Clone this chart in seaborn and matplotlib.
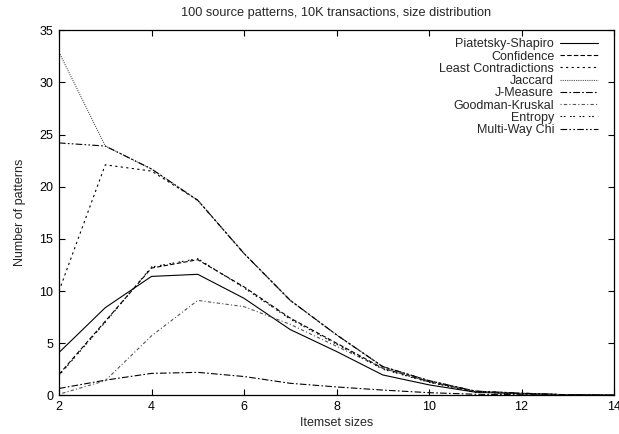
import pandas as pd
import matplotlib
matplotlib.use("Agg")
import matplotlib.pyplot as plt
import seaborn as sns

sizes = [2, 3, 4, 5, 6, 7, 8, 9, 10, 11, 12, 13, 14]

piatetsky_shapiro = [4.1, 8.4, 11.4, 11.6, 9.3, 6.3, 4.2, 1.95, 1.0, 0.3, 0.15, 0.05, 0.0]
confidence = [2.0, 7.1, 12.2, 13.0, 10.4, 7.4, 5.0, 2.6, 1.3, 0.35, 0.15, 0.05, 0.0]
least_contradictions = [10.0, 22.1, 21.5, 18.7, 13.6, 9.1, 5.8, 2.75, 1.4, 0.4, 0.2, 0.05, 0.0]
jaccard = [32.9, 23.9, 21.7, 18.7, 13.6, 9.1, 5.8, 2.75, 1.4, 0.4, 0.2, 0.05, 0.0]
j_measure = [0.65, 1.45, 2.1, 2.2, 1.8, 1.15, 0.8, 0.5, 0.25, 0.1, 0.05, 0.0, 0.0]
goodman_kruskal = [0.1, 1.4, 5.7, 9.1, 8.5, 6.8, 4.7, 2.6, 1.3, 0.35, 0.15, 0.05, 0.0]
entropy = [1.9, 7.0, 12.3, 13.1, 10.3, 7.3, 4.9, 2.5, 1.25, 0.3, 0.15, 0.05, 0.0]
multi_way_chi = [24.2, 23.9, 21.7, 18.7, 13.6, 9.1, 5.8, 2.75, 1.4, 0.4, 0.2, 0.05, 0.0]

series = {
    "Piatetsky-Shapiro": piatetsky_shapiro,
    "Confidence": confidence,
    "Least Contradictions": least_contradictions,
    "Jaccard": jaccard,
    "J-Measure": j_measure,
    "Goodman-Kruskal": goodman_kruskal,
    "Entropy": entropy,
    "Multi-Way Chi": multi_way_chi,
}
names = list(series.keys())

df = pd.concat([pd.DataFrame({"size": sizes, "count": v, "measure": k})
                for k, v in series.items()], ignore_index=True)

dash_styles = {
    "Piatetsky-Shapiro": "",
    "Confidence": (4, 2),
    "Least Contradictions": (2, 3),
    "Jaccard": (1, 1),
    "J-Measure": (6, 2, 1.5, 2),
    "Goodman-Kruskal": (1, 2, 3, 2),
    "Entropy": (1.5, 1.5, 1.5, 4),
    "Multi-Way Chi": (6, 2, 1.5, 2, 1.5, 2),
}
colors = {k: "black" for k in names}
colors["Jaccard"] = "#555555"
colors["Goodman-Kruskal"] = "#555555"

sns.set_style("ticks")
plt.rcParams["font.family"] = ["Liberation Sans", "DejaVu Sans"]
plt.rcParams["font.size"] = 9

fig = plt.figure(figsize=(6.19, 4.34), dpi=100)
ax = fig.add_axes([0.0953, 0.0892, 0.8967, 0.8410])

sns.lineplot(data=df, x="size", y="count", hue="measure", style="measure",
             hue_order=names, style_order=names, palette=colors,
             dashes=dash_styles, linewidth=0.8, ax=ax)

ax.set_xlim(2, 14)
ax.set_ylim(0, 35)
ax.set_xticks(range(2, 15, 2))
ax.set_yticks(range(0, 36, 5))
ax.tick_params(direction="in", length=4, width=0.8, top=True, right=True,
               labelsize=9, colors="black", pad=4)
for s in ax.spines.values():
    s.set_visible(True)
    s.set_linewidth(0.9)
    s.set_color("black")

ax.set_xlabel("Itemset sizes", fontsize=9, labelpad=3)
ax.set_ylabel("Number of patterns", fontsize=9, labelpad=10)
ax.set_title("100 source patterns, 10K transactions, size distribution",
             fontsize=9.2, pad=10)

handles, labels = ax.get_legend_handles_labels()
ax.legend(handles, labels, loc="upper right", bbox_to_anchor=(0.971, 0.978),
          frameon=False, markerfirst=False, fontsize=9, handlelength=3.0,
          handletextpad=0.5, labelspacing=0.02, borderaxespad=0, borderpad=0)

fig.savefig("out.png", dpi=100)
